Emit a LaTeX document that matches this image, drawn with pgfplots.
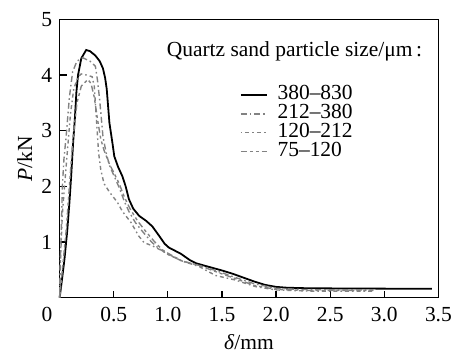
\documentclass[border=0pt]{standalone}
\usepackage{fontspec}
\setmainfont{Liberation Serif}
\usepackage{pgfplots}
\pgfplotsset{compat=1.18}
\definecolor{g1}{RGB}{130,130,130}
\begin{document}
\fontsize{10.8bp}{13bp}\selectfont
\begin{tikzpicture}
\begin{axis}[
  scale only axis, width=190.5bp, height=140bp,
  xmin=0, xmax=3.5, ymin=0, ymax=5,
  xtick={0.5,1,1.5,2,2.5,3,3.5},
  ytick={1,2,3,4,5},
  xtick pos=bottom, ytick pos=left,
  tick align=inside, major tick length=3.5bp,
  axis line style={line width=0.6bp},
  tick style={line width=0.6bp, black},
  /pgf/number format/assume math mode=true,
  xticklabel style={/pgf/number format/.cd, fixed, fixed zerofill, precision=1, /tikz/.cd, anchor=base, yshift=-12bp},
  yticklabel style={/pgf/number format/.cd, fixed, precision=0},
  xlabel={\textit{δ}/mm},
  ylabel={\textit{P}/kN},
  xlabel style={at={(axis description cs:0.5,0)}, anchor=base, yshift=-26bp},
  ylabel style={at={(axis description cs:0,0.5)}, anchor=center, yshift=17.5bp},
  legend image code/.code={\draw[#1] (0bp,0bp) -- (13bp,0bp);},
  legend cell align=left,
  legend style={at={(axis description cs:0.475,0.764)}, anchor=north west, draw=none, fill=none, inner sep=0pt,
    nodes={inner xsep=2bp, inner ysep=0.5bp, text height=6.8bp, text depth=1.7bp},
    /tikz/every odd column/.append style={column sep=3bp}},
  clip=false,
]
\addplot[black, line width=0.9bp] coordinates {
(0,0) (0.02,0.3) (0.045,0.7) (0.07,1.2) (0.09,1.7) (0.107,2.2) (0.125,2.8) (0.14,3.2) (0.155,3.7) (0.17,4.0) (0.2,4.3) (0.245,4.45) (0.28,4.43) (0.33,4.35) (0.37,4.25) (0.40,4.12) (0.42,3.95) (0.435,3.75) (0.46,3.14) (0.49,2.75) (0.505,2.54) (0.54,2.35) (0.58,2.18) (0.61,2.0) (0.64,1.77) (0.68,1.6) (0.735,1.47) (0.8,1.38) (0.857,1.28) (0.92,1.11) (0.97,0.97) (1.01,0.9) (1.07,0.84) (1.12,0.79) (1.2,0.68) (1.26,0.62) (1.35,0.57) (1.5,0.49) (1.6,0.43) (1.7,0.36) (1.8,0.29) (1.9,0.23) (2.0,0.195) (2.1,0.18) (2.3,0.17) (2.8,0.165) (3.44,0.16)
};
\addlegendentry{380--830}
\addplot[g1, line width=0.7bp, dash pattern=on 3bp off 1.5bp on 0.8bp off 1.5bp] coordinates {
(0,0) (0.005,0.6) (0.015,1.2) (0.025,2.0) (0.04,2.5) (0.06,2.9) (0.09,3.6) (0.12,4.06) (0.16,4.25) (0.214,4.31) (0.28,4.25) (0.33,4.16) (0.35,3.9) (0.37,3.55) (0.40,2.9) (0.43,2.6) (0.46,2.38) (0.5,2.2) (0.55,1.98) (0.6,1.72) (0.64,1.55) (0.7,1.35) (0.77,1.18) (0.85,1.0) (0.92,0.88) (1.0,0.78) (1.13,0.66) (1.29,0.58) (1.44,0.49) (1.6,0.38) (1.8,0.25) (2.0,0.17) (2.2,0.15) (2.5,0.14) (2.9,0.14)
};
\addlegendentry{212--380}
\addplot[g1, line width=0.7bp, dash pattern=on 0.8bp off 1.5bp on 2bp off 1.5bp] coordinates {
(0,0) (0.01,0.8) (0.025,1.5) (0.045,2.0) (0.07,2.6) (0.1,3.3) (0.13,3.75) (0.17,3.97) (0.2,4.02) (0.25,4.0) (0.3,3.97) (0.32,3.8) (0.34,3.2) (0.36,2.6) (0.38,2.3) (0.41,2.05) (0.46,1.9) (0.535,1.71) (0.58,1.55) (0.66,1.35) (0.73,1.11) (0.78,0.99) (0.86,0.93) (0.95,0.84) (1.0,0.78) (1.13,0.66) (1.29,0.56) (1.44,0.40) (1.62,0.32) (1.81,0.2) (2.0,0.14) (2.3,0.12) (2.9,0.12)
};
\addlegendentry{120--212}
\addplot[g1, line width=0.7bp, dash pattern=on 3bp off 1.5bp on 1.5bp off 1.5bp on 1.5bp off 1.5bp] coordinates {
(0,0) (0.03,0.6) (0.06,1.2) (0.09,2.0) (0.12,2.8) (0.16,3.5) (0.2,3.8) (0.26,3.92) (0.29,3.85) (0.32,3.6) (0.35,3.2) (0.38,2.85) (0.41,2.65) (0.46,2.4) (0.5,2.25) (0.55,2.05) (0.6,1.8) (0.65,1.6) (0.72,1.38) (0.8,1.18) (0.88,1.0) (0.95,0.86) (1.0,0.8) (1.13,0.66) (1.29,0.58) (1.44,0.47) (1.6,0.36) (1.8,0.22) (2.0,0.15) (2.3,0.13) (2.9,0.13)
};
\addlegendentry{75--120}
\node[anchor=base] at (rel axis cs:0.62,0.868) {Quartz sand particle size/μm\,:};
\node[anchor=base east, inner sep=0pt, xshift=-3.5bp, yshift=-12bp] at (rel axis cs:0,0) {0};
\end{axis}
\path ([xshift=-30bp,yshift=-29bp]current axis.south west) rectangle ([xshift=9bp,yshift=9.75bp]current axis.north east);
\end{tikzpicture}
\end{document}
